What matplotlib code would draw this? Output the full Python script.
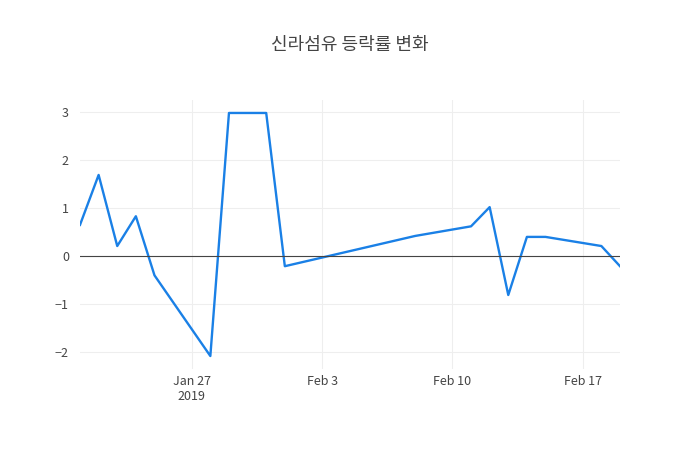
import matplotlib
matplotlib.use("Agg")
import matplotlib.pyplot as plt
import pandas as pd

dates = ["2019-01-21","2019-01-22","2019-01-23","2019-01-24","2019-01-25",
         "2019-01-28","2019-01-29","2019-01-30","2019-01-31","2019-02-01",
         "2019-02-07","2019-02-08","2019-02-11","2019-02-12","2019-02-13",
         "2019-02-14","2019-02-15","2019-02-18","2019-02-19"]
values = [0.65,1.69,0.21,0.83,-0.40,-2.08,2.98,2.98,2.98,-0.21,
          0.33,0.42,0.62,1.02,-0.81,0.40,0.40,0.21,-0.21]
title = "신라섬유 등락률 변화"

plt.rcParams['font.family'] = ['Noto Sans CJK KR', 'DejaVu Sans']
x = pd.to_datetime(dates)
fig = plt.figure(figsize=(7, 4.5), dpi=100)
ax = fig.add_axes([80/700, 81/450, 540/700, 269/450])
ax.plot(x, values, color='#1a80e6', lw=1.7)
ax.axhline(0, color='#444444', lw=0.8)
ax.set_xlim(x[0], x[-1])
ax.set_ylim(-2.35, 3.25)
ax.set_yticks([-2,-1,0,1,2,3])
ax.set_yticklabels(['−2','−1','0','1','2','3'])
ticks = pd.to_datetime(["2019-01-27","2019-02-03","2019-02-10","2019-02-17"])
ax.set_xticks(ticks)
ax.set_xticklabels(["Jan 27\n2019","Feb 3","Feb 10","Feb 17"])
ax.grid(color='#eeeeee', lw=0.8)
for s in ax.spines.values():
    s.set_visible(False)
ax.tick_params(length=0, colors='#444444', labelsize=9)
ax.tick_params(axis='y', pad=8)
ax.tick_params(axis='x', pad=4)
fig.text(0.5, 0.9, title, ha='center', va='center', fontsize=13, color='#444444')
fig.savefig("out.png")
